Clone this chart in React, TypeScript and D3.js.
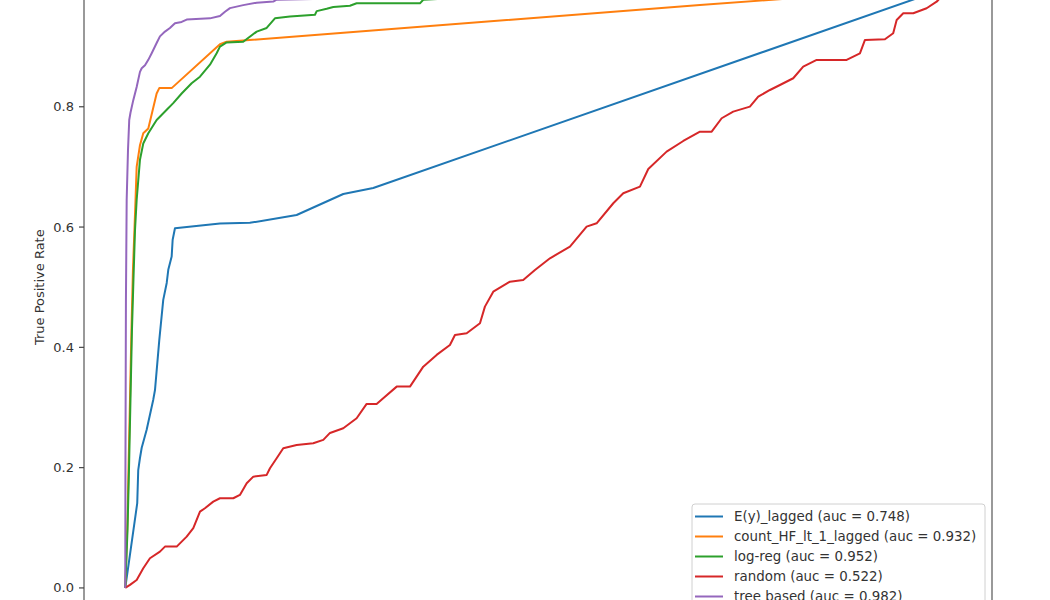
import React from "react";
import * as d3 from "d3";

// ---- data ----
const seriesNames = [
  "E(y)_lagged (auc = 0.748)",
  "count_HF_lt_1_lagged (auc = 0.932)",
  "log-reg (auc = 0.952)",
  "random (auc = 0.522)",
  "tree based (auc = 0.982)",
];
const seriesColors = ["#1f77b4", "#ff7f0e", "#2ca02c", "#d62728", "#9467bd"];

const eyFpr = [0, 0.0145, 0.0157, 0.0178, 0.0199, 0.0259, 0.0339, 0.036, 0.0412, 0.046, 0.0502, 0.0521, 0.0562, 0.0574, 0.0602, 0.1147, 0.151, 0.2076, 0.2641, 0.3004, 1];
const eyTpr = [0, 0.141, 0.196, 0.216, 0.233, 0.263, 0.313, 0.329, 0.412, 0.479, 0.507, 0.529, 0.551, 0.579, 0.598, 0.606, 0.607, 0.62, 0.655, 0.665, 1];

const hfFpr = [0, 0.0027, 0.0039, 0.0057, 0.0075, 0.0093, 0.0111, 0.0124, 0.0138, 0.0178, 0.0218, 0.0279, 0.038, 0.0412, 0.0562, 0.1147, 0.1228, 0.2722, 0.6962, 1];
const hfTpr = [0, 0.113, 0.196, 0.313, 0.429, 0.529, 0.595, 0.645, 0.7, 0.736, 0.756, 0.764, 0.822, 0.831, 0.831, 0.904, 0.908, 0.924, 0.969, 1];

const lrFpr = [0, 0.0027, 0.0045, 0.0063, 0.0081, 0.0099, 0.0118, 0.0138, 0.0178, 0.0218, 0.0279, 0.038, 0.0502, 0.0581, 0.0683, 0.0804, 0.0905, 0.1026, 0.1107, 0.1147, 0.1228, 0.1429, 0.1592, 0.1713, 0.1813, 0.1995, 0.2298, 0.2319, 0.244, 0.252, 0.2722, 0.2803, 0.357, 0.361, 0.405, 0.6, 1];
const lrTpr = [0, 0.096, 0.196, 0.313, 0.429, 0.512, 0.595, 0.645, 0.712, 0.739, 0.756, 0.778, 0.795, 0.806, 0.822, 0.839, 0.85, 0.87, 0.889, 0.9, 0.907, 0.908, 0.925, 0.931, 0.947, 0.95, 0.953, 0.959, 0.963, 0.966, 0.968, 0.972, 0.972, 0.978, 0.981, 0.99, 1];

const rdFpr = [0, 0.0057, 0.0138, 0.0218, 0.0299, 0.042, 0.0481, 0.0623, 0.0744, 0.0824, 0.0905, 0.0965, 0.1066, 0.1147, 0.1308, 0.1389, 0.1471, 0.1551, 0.1713, 0.1753, 0.1834, 0.1914, 0.2076, 0.2277, 0.2399, 0.248, 0.2641, 0.2803, 0.2924, 0.3045, 0.3125, 0.3288, 0.3449, 0.361, 0.3772, 0.3933, 0.3994, 0.4136, 0.4297, 0.4357, 0.4458, 0.466, 0.4821, 0.4963, 0.5145, 0.5387, 0.5589, 0.571, 0.5912, 0.6033, 0.6235, 0.6336, 0.6558, 0.676, 0.6962, 0.7104, 0.7225, 0.7365, 0.7567, 0.7668, 0.781, 0.7931, 0.8092, 0.8213, 0.8376, 0.8739, 0.89, 0.8961, 0.9203, 0.9303, 0.9345, 0.9425, 0.9546, 0.9708, 0.9829, 0.9849, 1];
const rdTpr = [0, 0.005, 0.0133, 0.0328, 0.0494, 0.0603, 0.0687, 0.0687, 0.0853, 0.0993, 0.1268, 0.1325, 0.1435, 0.1491, 0.1491, 0.1546, 0.1741, 0.185, 0.1879, 0.199, 0.2156, 0.2323, 0.2377, 0.2406, 0.2461, 0.2577, 0.2655, 0.2821, 0.3059, 0.3059, 0.3154, 0.3347, 0.3347, 0.3679, 0.3874, 0.404, 0.4206, 0.4234, 0.4401, 0.4677, 0.4926, 0.5092, 0.512, 0.5287, 0.5481, 0.5674, 0.6007, 0.6063, 0.6396, 0.6562, 0.6672, 0.6966, 0.7254, 0.7431, 0.7586, 0.7586, 0.7809, 0.7919, 0.8002, 0.8168, 0.8279, 0.8362, 0.8474, 0.8667, 0.8778, 0.8778, 0.8889, 0.9111, 0.9122, 0.9222, 0.9443, 0.9554, 0.9554, 0.9638, 0.9747, 0.9776, 1];

const tbFpr = [0, 0.0002, 0.0008, 0.0017, 0.0033, 0.0048, 0.0063, 0.0097, 0.0138, 0.0178, 0.0199, 0.0239, 0.0279, 0.032, 0.038, 0.042, 0.0481, 0.0541, 0.0602, 0.0683, 0.0744, 0.1026, 0.1147, 0.1208, 0.1268, 0.1429, 0.1592, 0.1793, 0.1834, 0.2274, 0.4, 1];
const tbTpr = [0, 0.196, 0.479, 0.645, 0.728, 0.778, 0.79, 0.811, 0.833, 0.858, 0.864, 0.869, 0.878, 0.889, 0.906, 0.917, 0.925, 0.931, 0.939, 0.941, 0.945, 0.947, 0.951, 0.958, 0.964, 0.969, 0.973, 0.975, 0.978, 0.979, 0.99, 1];

const yTicks = [0.0, 0.2, 0.4, 0.6, 0.8];
const yLabel = "True Positive Rate";

const allFpr = [eyFpr, hfFpr, lrFpr, rdFpr, tbFpr];
const allTpr = [eyTpr, hfTpr, lrTpr, rdTpr, tbTpr];

export default function App() {
  const W = 1050;
  const H = 600;
  const x = d3.scaleLinear().domain([-0.05, 1.05]).range([84, 992]);
  const y = d3.scaleLinear().domain([-0.05, 1.05]).range([618, -43.6]);
  const line = d3
    .line<[number, number]>()
    .x((d) => x(d[0]))
    .y((d) => y(d[1]));

  const font = "'DejaVu Sans', sans-serif";
  const legX = 692;
  const legY = 504;
  const rowH = 20;

  return (
    <svg
      width={W}
      height={H}
      style={{ position: "absolute", left: 0, top: 0, background: "#fff" }}
    >
      <defs>
        <clipPath id="plot">
          <rect x={84} y={-43.6} width={908} height={661.6} />
        </clipPath>
      </defs>
      <rect x={0} y={0} width={W} height={H} fill="#fff" />
      <g clipPath="url(#plot)">
        {allFpr.map((fpr, i) => {
          const pts: [number, number][] = fpr.map((f, j) => [f, allTpr[i][j]]);
          return (
            <path
              key={i}
              d={line(pts) || ""}
              fill="none"
              stroke={seriesColors[i]}
              strokeWidth={2}
              strokeLinejoin="round"
            />
          );
        })}
      </g>
      {/* spines */}
      <line x1={84} x2={84} y1={-43.6} y2={618} stroke="#555" strokeWidth={1.2} />
      <line x1={992} x2={992} y1={-43.6} y2={618} stroke="#555" strokeWidth={1.2} />
      {/* y ticks */}
      {yTicks.map((t) => (
        <g key={t}>
          <line x1={79} x2={84} y1={y(t)} y2={y(t)} stroke="#444" strokeWidth={1.2} />
          <text
            x={74}
            y={y(t)}
            dy="0.35em"
            textAnchor="end"
            fontFamily={font}
            fontSize={13}
            fill="#333"
          >
            {t.toFixed(1)}
          </text>
        </g>
      ))}
      <text
        transform={`translate(44, ${y(0.5)}) rotate(-90)`}
        textAnchor="middle"
        fontFamily={font}
        fontSize={13}
        fill="#333"
      >
        {yLabel}
      </text>
      {/* legend */}
      <rect
        x={legX}
        y={legY}
        width={293}
        height={120}
        rx={3}
        fill="#fff"
        fillOpacity={0.8}
        stroke="#d0d0d0"
        strokeWidth={1}
      />
      {seriesNames.map((name, i) => {
        const cy = legY + 12.5 + i * rowH;
        return (
          <g key={name}>
            <line x1={695} x2={723} y1={cy} y2={cy} stroke={seriesColors[i]} strokeWidth={2} />
            <text
              x={734}
              y={cy}
              dy="0.35em"
              fontFamily={font}
              fontSize={13.4}
              fill="#333"
            >
              {name}
            </text>
          </g>
        );
      })}
    </svg>
  );
}
